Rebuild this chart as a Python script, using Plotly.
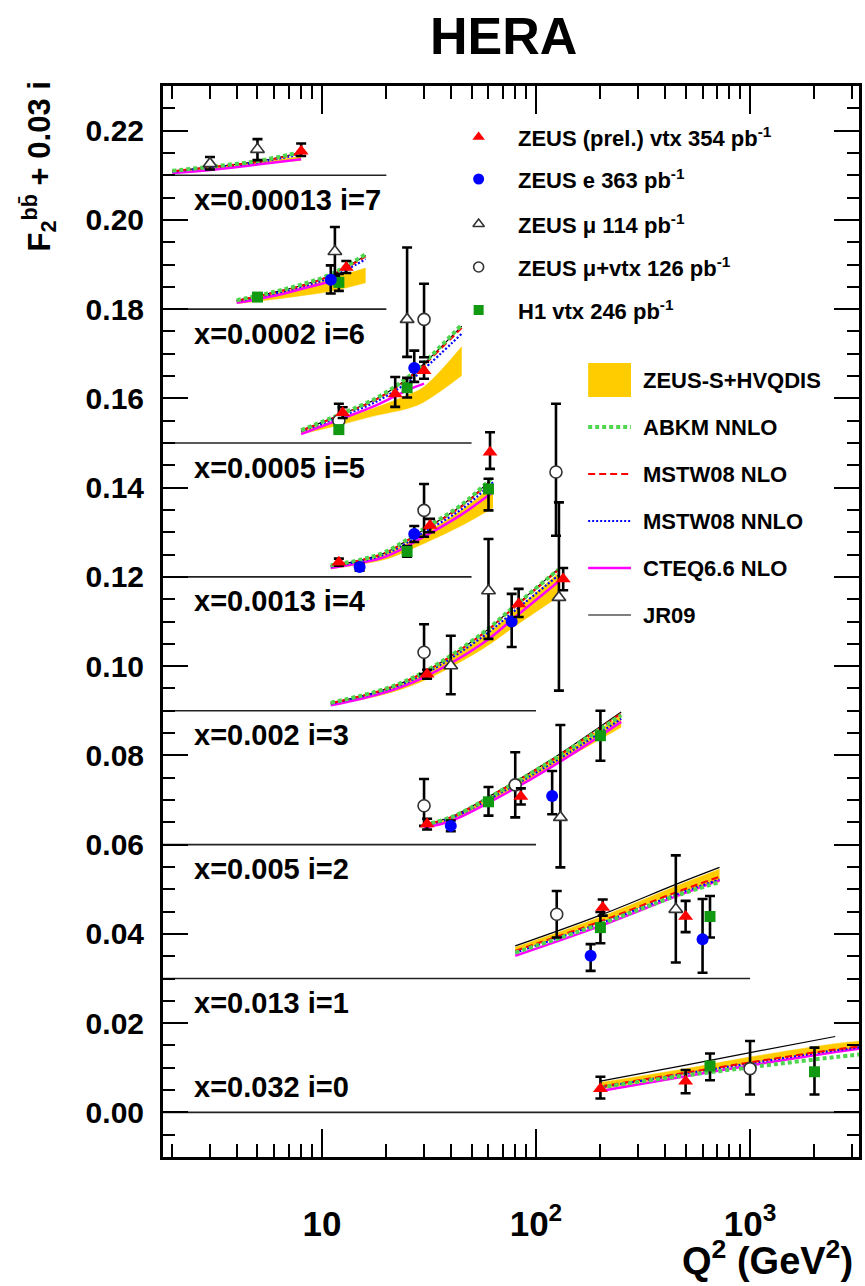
import math
import plotly.graph_objects as go

# ---------------- data ----------------
STEP = 0.03
BIN_XBJ = ["0.032", "0.013", "0.005", "0.002", "0.0013", "0.0005", "0.0002", "0.00013"]
BASELINE_END_Q2 = [3228, 1000, 100, 100, 50, 50, 20, 20]

# theory nodes per bin (i = 0..7)
Q2_NODES = [
    [200, 500, 1000, 2500, 3300],
    [80, 200, 450, 720],
    [30, 40, 60, 120, 250],
    [11, 20, 30, 56, 80, 127],
    [11, 15, 20, 30, 45, 63],
    [8, 12, 18, 25, 30, 45],
    [4, 6, 8, 11, 16],
    [2, 3, 5, 8],
]
JR09 = [
    [0.0070, 0.0106, 0.0134, 0.0170, None],
    [0.0073, 0.0142, 0.0211, 0.0249],
    [0.0046, 0.0062, 0.0107, 0.0193, 0.0297],
    [0.0017, 0.0049, 0.0086, 0.0172, 0.0235, 0.0318],
    [0.0025, 0.0037, 0.0055, 0.0106, 0.0160, 0.0222],
    [0.0028, 0.0062, 0.0099, 0.0144, 0.0178, 0.0262],
    [0.0019, 0.0038, 0.0053, 0.0076, 0.0120],
    [0.0009, 0.0018, 0.0031, 0.0051],
]
ABKM = [
    [0.0056, 0.0083, 0.0101, 0.0124, 0.0130],
    [0.0058, 0.0122, 0.0185, 0.0216],
    [0.0045, 0.0061, 0.0105, 0.0190, 0.0290],
    [0.0018, 0.0050, 0.0087, 0.0173, 0.0236, 0.0316],
    [0.0026, 0.0038, 0.0057, 0.0108, 0.0162, 0.0224],
    [0.0029, 0.0063, 0.0101, 0.0146, 0.0180, 0.0265],
    [0.0020, 0.0039, 0.0055, 0.0078, 0.0123],
    [0.0010, 0.0019, 0.0032, 0.0052],
]
MSTW_NLO = [
    [0.0058, 0.0089, 0.0112, 0.0141, 0.0148],
    [0.0062, 0.0128, 0.0193, 0.0228],
    [0.0045, 0.0061, 0.0106, 0.0191, 0.0294],
    [0.0017, 0.0049, 0.0086, 0.0171, 0.0233, 0.0315],
    [0.0025, 0.0037, 0.0055, 0.0105, 0.0158, 0.0220],
    [0.0028, 0.0061, 0.0098, 0.0142, 0.0175, 0.0258],
    [0.0019, 0.0037, 0.0052, 0.0075, 0.0118],
    [0.0009, 0.0018, 0.0030, 0.0049],
]
MSTW_NNLO = [
    [0.0056, 0.0087, 0.0110, 0.0139, 0.0146],
    [0.0058, 0.0124, 0.0188, 0.0222],
    [0.0043, 0.0059, 0.0101, 0.0184, 0.0282],
    [0.0016, 0.0047, 0.0082, 0.0165, 0.0225, 0.0303],
    [0.0023, 0.0035, 0.0052, 0.0100, 0.0152, 0.0212],
    [0.0026, 0.0058, 0.0093, 0.0135, 0.0166, 0.0245],
    [0.0018, 0.0035, 0.0050, 0.0071, 0.0112],
    [0.0008, 0.0017, 0.0029, 0.0047],
]
CTEQ = [
    [0.0048, 0.0081, 0.0105, 0.0135, 0.0143],
    [0.0051, 0.0118, 0.0184, 0.0220],
    [0.0038, 0.0053, 0.0094, 0.0176, 0.0275],
    [0.0012, 0.0042, 0.0075, 0.0150, 0.0210, 0.0289],
    [0.0020, 0.0031, 0.0046, 0.0090, 0.0140, 0.0190],
    [0.0020, 0.0052, 0.0085, 0.0118, 0.0133, None],
    [0.0014, 0.0030, 0.0045, 0.0062, None],
    [0.0005, 0.0012, 0.0024, 0.0036],
]
BAND_LO = [
    [0.0052, 0.0085, 0.0110, 0.0138, 0.0143],
    [0.0060, 0.0125, 0.0190, 0.0216],
    [0.0040, 0.0055, 0.0095, 0.0176, 0.0263],
    [0.0012, 0.0038, 0.0068, 0.0138, 0.0190, 0.0255],
    [0.0018, 0.0028, 0.0040, 0.0075, 0.0115, 0.0155],
    [0.0020, 0.0040, 0.0062, 0.0077, 0.0092, 0.0151],
    [0.0012, 0.0022, 0.0030, 0.0040, 0.0059],
    [0.0006, 0.0013, 0.0025, 0.0033],
]
BAND_HI = [
    [0.0067, 0.0098, 0.0124, 0.0154, 0.0160],
    [0.0070, 0.0138, 0.0207, 0.0245],
    [0.0045, 0.0060, 0.0104, 0.0190, 0.0290],
    [0.0016, 0.0046, 0.0083, 0.0165, 0.0225, 0.0308],
    [0.0024, 0.0035, 0.0052, 0.0097, 0.0150, 0.0205],
    [0.0026, 0.0052, 0.0080, 0.0107, 0.0126, 0.0216],
    [0.0018, 0.0035, 0.0048, 0.0068, 0.0092],
    [0.0008, 0.0016, 0.0029, 0.0042],
]

# ZEUS (prel.) vtx 354 pb-1
VTX_Q2 = [8, 13, 12.5, 22, 30, 12, 32, 61, 31, 83, 134, 31, 85, 205, 500, 200, 500]
VTX_F2 = [0.0054, 0.0093, 0.0068, 0.0110, 0.0162, 0.0033, 0.0115, 0.0279, 0.0082, 0.0239, 0.0295,
          0.0046, 0.0108, 0.0159, 0.0139, 0.0053, 0.0070]
VTX_UP = [0.0017, 0.0015, 0.0012, 0.0038, 0.0020, 0.0008, 0.0015, 0.0045, 0.0010, 0.0034, 0.0025,
          0.0012, 0.0018, 0.0018, 0.0035, 0.0027, 0.0025]
VTX_DN = [0.0011, 0.0012, 0.0012, 0.0029, 0.0018, 0.0008, 0.0015, 0.0037, 0.0010, 0.0029, 0.0025,
          0.0012, 0.0018, 0.0018, 0.0035, 0.0022, 0.0027]
VTX_BIN = [7, 6, 5, 5, 5, 4, 4, 4, 3, 3, 3, 2, 2, 1, 1, 0, 0]

# ZEUS e 363 pb-1
E_Q2 = [11, 27, 15, 27, 77, 40, 119, 180, 600]
E_F2 = [0.0066, 0.0168, 0.0022, 0.0096, 0.0200, 0.0042, 0.0109, 0.0051, 0.0088]
E_UP = [0.0032, 0.0039, 0.0008, 0.0018, 0.0062, 0.0012, 0.0056, 0.0026, 0.0090]
E_DN = [0.0031, 0.0031, 0.0008, 0.0018, 0.0057, 0.0012, 0.0041, 0.0034, 0.0075]
E_BIN = [6, 5, 4, 4, 3, 2, 2, 1, 1]

# ZEUS mu 114 pb-1
MU_Q2 = [3, 5, 11.5, 25, 40, 60, 128, 130, 450]
MU_F2 = [0.0026, 0.0058, 0.0129, 0.0277, 0.0101, 0.0269, 0.0254, 0.0061, 0.0155]
MU_UP = [0.0015, 0.0023, 0.0055, 0.0161, 0.0067, 0.0116, 0.0213, 0.0207, 0.0121]
MU_DN = [0.0013, 0.0024, 0.0055, 0.0084, 0.0064, 0.0108, 0.0209, 0.0112, 0.0119]
MU_BIN = [7, 7, 6, 5, 3, 3, 3, 2, 1]

# ZEUS mu+vtx 126 pb-1
MV_Q2 = [12, 30, 30, 124, 30, 30, 80, 125, 1000]
MV_F2 = [0.0050, 0.0277, 0.0149, 0.0235, 0.0131, 0.0087, 0.0134, 0.0144, 0.0098]
MV_UP = [0.0038, 0.0080, 0.0059, 0.0153, 0.0063, 0.0060, 0.0073, 0.0052, 0.0062]
MV_DN = [0.0023, 0.0085, 0.0059, 0.0143, 0.0049, 0.0045, 0.0073, 0.0052, 0.0058]
MV_BIN = [5, 5, 4, 4, 3, 2, 2, 1, 0]

# H1 vtx 246 pb-1
H1_Q2 = [5, 12, 12, 25, 25, 60, 60, 200, 200, 650, 650, 2000]
H1_F2 = [0.0027, 0.0060, 0.0030, 0.0124, 0.0057, 0.0197, 0.0096, 0.0244, 0.0114, 0.0139, 0.0104, 0.0091]
H1_UP = [0.0005, 0.0019, 0.0008, 0.0022, 0.0012, 0.0023, 0.0033, 0.0056, 0.0035, 0.0046, 0.0028, 0.0054]
H1_DN = [0.0005, 0.0019, 0.0008, 0.0022, 0.0012, 0.0048, 0.0031, 0.0056, 0.0035, 0.0047, 0.0032, 0.0051]
H1_BIN = [6, 6, 5, 5, 4, 4, 2, 2, 1, 1, 0, 0]

# ---------------- layout constants ----------------
W, H = 865, 1286
ML, MR, MT, MB = 163, 3, 86, 129
X_MIN, X_MAX = 1.81, 3228
Y_MIN, Y_MAX = -0.01, 0.23
FONT = "Liberation Sans, Arial, Helvetica, sans-serif"
YELLOW = "#ffcc00"
PW, PH = W - ML - MR, H - MT - MB


def px2u(px):
    return (px - ML) / PW


def py2v(py):
    return (H - MB - py) / PH


def shift(vals, i):
    return [None if v is None else v + STEP * i for v in vals]


def shift_list(vals, bins):
    return [v + STEP * b for v, b in zip(vals, bins)]


fig = go.Figure()

# baselines
for i in range(8):
    fig.add_trace(go.Scatter(x=[X_MIN, BASELINE_END_Q2[i]], y=[STEP * i, STEP * i], mode="lines",
                             line=dict(color="#222222", width=1.6), showlegend=False, hoverinfo="skip"))

# ZEUS-S+HVQDIS band
for i in range(8):
    fig.add_trace(go.Scatter(x=Q2_NODES[i], y=shift(BAND_LO[i], i), mode="lines",
                             line=dict(color=YELLOW, width=0.5, shape="spline"),
                             showlegend=False, hoverinfo="skip"))
    fig.add_trace(go.Scatter(x=Q2_NODES[i], y=shift(BAND_HI[i], i), mode="lines",
                             line=dict(color=YELLOW, width=0.5, shape="spline"),
                             fill="tonexty", fillcolor=YELLOW, showlegend=False, hoverinfo="skip"))

MODELS = [
    (CTEQ, "#ff00ff", 2.5, "solid"),
    (JR09, "#000000", 1.2, "solid"),
    (MSTW_NNLO, "#0000ff", 2.2, "2px,2px"),
    (MSTW_NLO, "#ff0000", 2.0, "7px,4px"),
    (ABKM, "#4fd64f", 4.0, "4px,3px"),
]
for vals, col, wid, dash in MODELS:
    for i in range(8):
        fig.add_trace(go.Scatter(x=Q2_NODES[i], y=shift(vals[i], i), mode="lines",
                                 line=dict(color=col, width=wid, dash=dash, shape="spline"),
                                 showlegend=False, hoverinfo="skip"))

ERR = dict(type="data", symmetric=False, color="black", thickness=2.6, width=5)

STYLES = {
    "vtx": dict(symbol="triangle-up", size=13, color="#ff0000", line=dict(width=0)),
    "e": dict(symbol="circle", size=12, color="#0000ff", line=dict(width=0)),
    "mu": dict(symbol="triangle-up", size=12, color="white", line=dict(width=1.6, color="#333333")),
    "mv": dict(symbol="circle", size=12, color="white", line=dict(width=1.6, color="#333333")),
    "h1": dict(symbol="square", size=11, color="#119911", line=dict(width=0)),
}

DATASETS = [
    ("mv", MV_Q2, MV_F2, MV_UP, MV_DN, MV_BIN),
    ("mu", MU_Q2, MU_F2, MU_UP, MU_DN, MU_BIN),
    ("h1", H1_Q2, H1_F2, H1_UP, H1_DN, H1_BIN),
    ("e", E_Q2, E_F2, E_UP, E_DN, E_BIN),
    ("vtx", VTX_Q2, VTX_F2, VTX_UP, VTX_DN, VTX_BIN),
]
for key, q2, f2, up, dn, bins in DATASETS:
    fig.add_trace(go.Scatter(x=q2, y=shift_list(f2, bins), mode="markers",
                             marker=STYLES[key],
                             error_y=dict(ERR, array=up, arrayminus=dn),
                             showlegend=False))

# ---------------- legend (drawn on an overlay 0..1 axis pair) ----------------
LEG1_X, LEG1_TX = 480, 518
LEG1_ROWS = [137, 179, 224, 267, 310]
LEG1_KEYS = ["vtx", "e", "mu", "mv", "h1"]
LEG1_TEXT = ["ZEUS (prel.) vtx 354 pb<sup>-1</sup>", "ZEUS e 363 pb<sup>-1</sup>",
             "ZEUS \u03bc 114 pb<sup>-1</sup>", "ZEUS \u03bc+vtx 126 pb<sup>-1</sup>",
             "H1 vtx 246 pb<sup>-1</sup>"]
LEG_SIZES = {"vtx": 11, "e": 11, "mu": 10, "mv": 10, "h1": 10}

for key, py in zip(LEG1_KEYS, LEG1_ROWS):
    st = dict(STYLES[key])
    st["size"] = LEG_SIZES[key]
    fig.add_trace(go.Scatter(x=[px2u(LEG1_X)], y=[py2v(py)], xaxis="x2", yaxis="y2",
                             mode="markers", marker=st, showlegend=False, hoverinfo="skip"))

LEG2_X0, LEG2_X1, LEG2_TX = 590, 633, 643
LEG2_BOX = (363, 397)
LEG2_ROWS = [427, 474, 521, 568, 615]
for (vals, col, wid, dash), py in zip([MODELS[4], MODELS[3], MODELS[2], MODELS[0], MODELS[1]], LEG2_ROWS):
    fig.add_trace(go.Scatter(x=[px2u(LEG2_X0), px2u(LEG2_X1)], y=[py2v(py), py2v(py)],
                             xaxis="x2", yaxis="y2", mode="lines",
                             line=dict(color=col, width=wid, dash=dash),
                             showlegend=False, hoverinfo="skip"))
LEG2_TEXT = ["ZEUS-S+HVQDIS", "ABKM NNLO", "MSTW08 NLO", "MSTW08 NNLO", "CTEQ6.6 NLO", "JR09"]

shapes = [dict(type="rect", xref="paper", yref="paper",
               x0=px2u(LEG2_X0), x1=px2u(LEG2_X1), y0=py2v(LEG2_BOX[1]), y1=py2v(LEG2_BOX[0]),
               fillcolor=YELLOW, line=dict(width=0))]

ann = []
for txt, py in zip(LEG1_TEXT, LEG1_ROWS):
    ann.append(dict(x=px2u(LEG1_TX), y=py2v(py), xref="paper", yref="paper", text=txt,
                    showarrow=False, xanchor="left", yanchor="middle",
                    font=dict(family=FONT, size=22, color="black", weight="bold")))
for txt, py in zip(LEG2_TEXT, [sum(LEG2_BOX) / 2] + LEG2_ROWS):
    ann.append(dict(x=px2u(LEG2_TX), y=py2v(py), xref="paper", yref="paper", text=txt,
                    showarrow=False, xanchor="left", yanchor="middle",
                    font=dict(family=FONT, size=22, color="black", weight="bold")))

# bin labels
for i, xb in enumerate(BIN_XBJ):
    ly = 0.0056 if i == 0 else STEP * i - 0.0055
    ann.append(dict(x=px2u(192), y=ly, xref="paper", yref="y", text=f"x={xb} i={i}",
                    showarrow=False, xanchor="left", yanchor="middle",
                    font=dict(family=FONT, size=29, color="black", weight="bold")))

# titles
ann.append(dict(x=px2u(505), y=py2v(36), xref="paper", yref="paper", text="HERA", showarrow=False,
                xanchor="center", yanchor="middle",
                font=dict(family=FONT, size=52, color="black", weight="bold")))
ann.append(dict(x=px2u(38), y=py2v(80), xref="paper", yref="paper",
                text="F<sub>2</sub><sup>b\u0062\u0304</sup> + 0.03 i", textangle=-90, showarrow=False,
                xanchor="center", yanchor="top",
                font=dict(family=FONT, size=31, color="black", weight="bold")))
ann.append(dict(x=px2u(858), y=py2v(1258), xref="paper", yref="paper",
                text="Q<sup>2</sup> (GeV<sup>2</sup>)", showarrow=False,
                xanchor="right", yanchor="middle",
                font=dict(family=FONT, size=38, color="black", weight="bold")))

MINOR_X = [2, 3, 4, 5, 6, 7, 8, 9, 20, 30, 40, 50, 60, 70, 80, 90,
           200, 300, 400, 500, 600, 700, 800, 900, 2000, 3000]

fig.update_layout(
    width=W, height=H,
    margin=dict(l=ML, r=MR, t=MT, b=MB, pad=0),
    paper_bgcolor="white", plot_bgcolor="white",
    font=dict(family=FONT, color="black"),
    showlegend=False,
    shapes=shapes,
    annotations=ann,
    xaxis=dict(type="log", range=[math.log10(X_MIN), math.log10(X_MAX)],
               tickmode="array", tickvals=[10, 100, 1000],
               ticktext=["10", "10<sup>2</sup>", "10<sup>3</sup>"],
               ticks="inside", ticklen=28, tickwidth=1.6, tickcolor="black",
               minor=dict(tickmode="array", tickvals=MINOR_X, ticks="inside", ticklen=13,
                          tickwidth=1.6, tickcolor="black"),
               showline=True, linewidth=3, linecolor="black", mirror="allticks",
               showgrid=False, zeroline=False,
               tickfont=dict(family=FONT, size=35, color="black", weight="bold"),
               ticklabelstandoff=34),
    yaxis=dict(range=[Y_MIN, Y_MAX], tickmode="linear", tick0=0, dtick=0.02, tickformat=".2f",
               ticks="inside", ticklen=25, tickwidth=1.6, tickcolor="black",
               minor=dict(dtick=0.005, tick0=0, ticks="inside", ticklen=12, tickwidth=1.6,
                          tickcolor="black"),
               showline=True, linewidth=3, linecolor="black", mirror="allticks",
               showgrid=False, zeroline=False,
               tickfont=dict(family=FONT, size=30, color="black", weight="bold"),
               ticklabelstandoff=10),
    xaxis2=dict(overlaying="x", range=[0, 1], visible=False, anchor="y2", fixedrange=True),
    yaxis2=dict(overlaying="y", range=[0, 1], visible=False, anchor="x2", fixedrange=True),
)

fig.write_html("out.html")
